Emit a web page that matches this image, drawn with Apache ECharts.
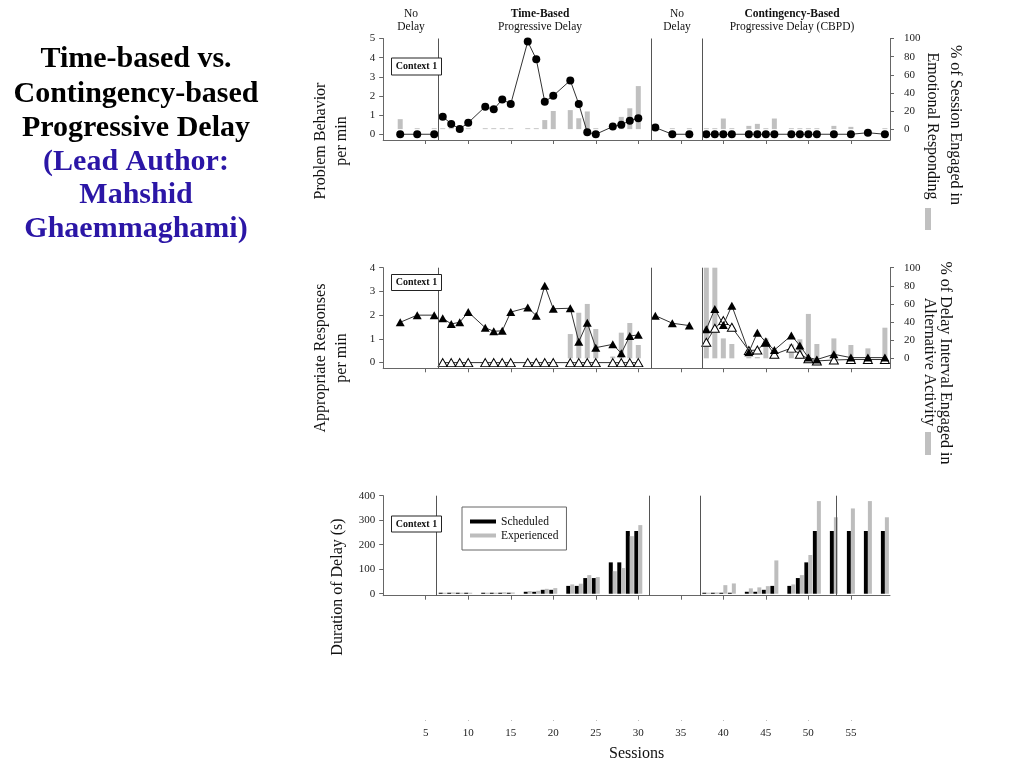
<!DOCTYPE html>
<html>
<head>
<meta charset="utf-8">
<script src="https://cdn.jsdelivr.net/npm/echarts@6/dist/echarts.min.js"></script>
<style>
  html, body { margin: 0; padding: 0; background: #fff; }
  #chart { width: 1024px; height: 768px; }
</style>
</head>
<body>
<div id="chart"></div>
<script>
// ---------------- data ----------------
const phaseBounds = [6.5, 31.5, 37.5];
const bottomExtraLine = [53.5];
const sessionTicks = [5, 10, 15, 20, 25, 30, 35, 40, 45, 50, 55];
const pbTicks = [0, 1, 2, 3, 4, 5];
const arTicks = [0, 1, 2, 3, 4];
const pctTicks = [0, 20, 40, 60, 80, 100];
const delayTicks = [0, 100, 200, 300, 400];

const sessions = [2,4,6, 7,8,9,10,12,13,14,15,17,18,19,20,22,23,24,25,27,28,29,30, 32,34,36, 38,39,40,41,43,44,45,46,48,49,50,51,53,55,57,59];

const problemBehavior = [0,0,0,
  0.92,0.54,0.28,0.60, 1.44,1.30,1.82,1.58, 4.84,3.92,1.70,2.01, 2.81,1.58,0.10,0.00, 0.40,0.50,0.71,0.83,
  0.35,0,0,
  0,0,0,0, 0,0,0,0, 0,0,0,0, 0,0,0.08,0];

const emotionalPct = [11,1,1,
  1,1,1,1, 1,1,1,1, 1,1,10,20, 21,12,19.5,1, 1,13.5,23,47.5,
  0,1,1,
  1,1,11.7,1, 3.6,5.8,1,11.7, 1,1,1,1, 3.6,2.5,0,1];

const appropriateFilled = [1.70,2.00,2.00,
  1.87,1.63,1.70,2.13, 1.47,1.32,1.34,2.13, 2.32,1.98,3.24,2.27, 2.29,0.88,1.68,0.63, 0.77,0.39,1.12,1.17,
  1.98,1.66,1.56,
  1.41,2.26,1.59,2.40, 0.44,1.26,0.86,0.53, 1.14,0.72,0.21,0.13, 0.35,0.21,0.21,0.21];

const openSessions = [7,8,9,10,12,13,14,15,17,18,19,20,22,23,24,25,27,28,29,30, 38,39,40,41,43,44,45,46,48,49,50,51,53,55,57,59];
const appropriateOpen = [0,0,0,0, 0,0,0,0, 0,0,0,0, 0,0,0,0, 0,0,0,0,
  0.86,1.45,1.77,1.49, 0.51,0.53,0.86,0.35, 0.61,0.35,0.16,0.07, 0.11,0.13,0.13,0.13];

const altActivityPct = [0,0,0,
  0,0,0,0, 0,0,0,0, 0,0,0,0, 26.8,50.3,60,32.3, 2,28.3,39,14.7,
  0,0,0,
  100,100,22,15.8, 1.5,1.5,22,0, 15.4,21,49,15.8, 22,14.7,11,33.8];

const delaySessions = [7,8,9,10,12,13,14,15,17,18,19,20,22,23,24,25,27,28,29,30, 38,39,40,41,43,44,45,46,48,49,50,51,53,55,57,59];
const scheduledDelay = [0.5,0.5,1,1, 2,2,4,4, 8,8,16,16, 32,32,64,64, 128,128,256,256,
  1,1,2,2, 8,8,16,32, 32,64,128,256, 256,256,256,256];
const experiencedDelay = [3,5,3,3, 3,4,6,5, 11,12,20,23, 38,41,76,68, 92,105,235,280,
  3,5,35,42, 22,26,31,136, 38,76,158,378, 312,348,378,312];

// ---------------- helpers ----------------
const SERIF = "'Liberation Serif', 'Times New Roman', 'DejaVu Serif', serif";
const AX = '#666';
const GRAY = '#c0c0c0';

function zip(xs, ys) { return xs.map((x, i) => [x, ys[i]]); }
function segments(xs, ys) {
  const segs = [[], [], [], []];
  xs.forEach((x, i) => {
    const k = phaseBounds.filter(b => x > b).length;
    segs[k].push([x, ys[i]]);
  });
  return segs.filter(s => s.length);
}
function phaseMarkLine(vals) {
  return {
    silent: true, symbol: 'none', animation: false,
    label: { show: false },
    lineStyle: { color: '#555', width: 1, type: 'solid' },
    data: vals.map(v => ({ xAxis: v }))
  };
}

const gridLeft = 383.2, gridWidth = 506.8;
const grids = [
  { left: gridLeft, top: 38.5, width: gridWidth, height: 101.5 },
  { left: gridLeft, top: 267.7, width: gridWidth, height: 100.6 },
  { left: gridLeft, top: 495.7, width: gridWidth, height: 100 },
  { left: gridLeft, top: 700, width: gridWidth, height: 20 }
];

function xAx(i, extra) {
  return Object.assign({
    type: 'value', gridIndex: i, min: 0, max: 59.6, interval: 5,
    axisLine: { show: true, onZero: false, lineStyle: { color: AX, width: 1 } },
    axisTick: { show: true, length: 4, customValues: sessionTicks, lineStyle: { color: AX } },
    axisLabel: { show: false },
    splitLine: { show: false }
  }, extra || {});
}
function yAx(i, pos, min, max, ticks, extra) {
  return Object.assign({
    type: 'value', gridIndex: i, position: pos, min: min, max: max,
    axisLine: { show: true, onZero: false, lineStyle: { color: AX, width: 1 } },
    axisTick: { show: true, length: 4, customValues: ticks, lineStyle: { color: AX } },
    axisLabel: { show: true, customValues: ticks, color: '#222', fontFamily: SERIF, fontSize: 11,
      margin: pos === 'right' ? 14 : 8 },
    splitLine: { show: false }
  }, extra || {});
}

const series = [];

// top panel
series.push({
  type: 'bar', name: 'Emotional Responding', xAxisIndex: 0, yAxisIndex: 1,
  data: zip(sessions, emotionalPct), barWidth: 5, itemStyle: { color: GRAY }, z: 1,
  markLine: phaseMarkLine(phaseBounds)
});
segments(sessions, problemBehavior).forEach(seg => series.push({
  type: 'line', xAxisIndex: 0, yAxisIndex: 0, data: seg,
  symbol: 'circle', symbolSize: 8, z: 3,
  lineStyle: { color: '#333', width: 1 }, itemStyle: { color: '#000' }
}));

// middle panel
series.push({
  type: 'bar', name: 'Alternative Activity', xAxisIndex: 1, yAxisIndex: 3,
  data: zip(sessions, altActivityPct), barWidth: 5, itemStyle: { color: GRAY }, z: 1,
  markLine: phaseMarkLine(phaseBounds)
});
segments(openSessions, appropriateOpen).forEach(seg => series.push({
  type: 'line', xAxisIndex: 1, yAxisIndex: 2, data: seg,
  symbol: 'triangle', symbolSize: [9, 8], z: 3,
  lineStyle: { color: '#333', width: 1 },
  itemStyle: { color: '#fff', borderColor: '#000', borderWidth: 1 }
}));
segments(sessions, appropriateFilled).forEach(seg => series.push({
  type: 'line', xAxisIndex: 1, yAxisIndex: 2, data: seg,
  symbol: 'triangle', symbolSize: [9, 8], z: 4,
  lineStyle: { color: '#333', width: 1 }, itemStyle: { color: '#000' }
}));

// bottom panel
series.push({
  type: 'bar', name: 'Scheduled', xAxisIndex: 2, yAxisIndex: 4,
  data: zip(delaySessions, scheduledDelay), barWidth: 4, barGap: '0%', barMinHeight: 1,
  itemStyle: { color: '#000' },
  markLine: phaseMarkLine(phaseBounds.concat(bottomExtraLine))
});
series.push({
  type: 'bar', name: 'Experienced', xAxisIndex: 2, yAxisIndex: 4,
  data: zip(delaySessions, experiencedDelay), barWidth: 4, barGap: '0%', barMinHeight: 1,
  itemStyle: { color: '#bdbdbd' }
});

// ---------------- texts ----------------
function txt(x, y, text, font, opts) {
  return Object.assign({
    type: 'text', x: x, y: y, silent: true,
    style: Object.assign({ text: text, font: font, fill: '#111', textAlign: 'center', textVerticalAlign: 'middle' },
      (opts && opts.style) || {})
  }, (opts && opts.el) || {});
}
const graphics = [];
// title
const titleFont = "bold 30px " + SERIF;
[['Time-based vs.', 59, '#000'], ['Contingency-based', 94, '#000'], ['Progressive Delay', 128, '#000'],
 ['(Lead Author:', 162, '#2B16A6'], ['Mahshid', 195, '#2B16A6'], ['Ghaemmaghami)', 229, '#2B16A6']]
 .forEach(t => graphics.push(txt(136, t[1], t[0], titleFont, { style: { fill: t[2] } })));

// phase headers
const hf = "11.5px " + SERIF, hb = "bold 11.5px " + SERIF;
graphics.push(txt(411, 14, 'No', hf), txt(411, 27, 'Delay', hf));
graphics.push(txt(540, 14, 'Time-Based', hb), txt(540, 27, 'Progressive Delay', hf));
graphics.push(txt(677, 14, 'No', hf), txt(677, 27, 'Delay', hf));
graphics.push(txt(792, 14, 'Contingency-Based', hb), txt(792, 27, 'Progressive Delay (CBPD)', hf));

// left axis names
const nf = "16px " + SERIF;
const up = { el: { rotation: Math.PI / 2 } };
const down = { el: { rotation: -Math.PI / 2 } };
graphics.push(txt(321, 141, 'Problem Behavior', nf, up), txt(342, 141, 'per min', nf, up));
graphics.push(txt(321, 358, 'Appropriate Responses', nf, up), txt(342, 358, 'per min', nf, up));
graphics.push(txt(338, 587, 'Duration of Delay (s)', nf, up));

// right axis names + swatches
graphics.push(txt(955, 125, '% of Session Engaged in', nf, down), txt(932, 126, 'Emotional Responding', nf, down));
graphics.push({ type: 'rect', silent: true, shape: { x: 925, y: 208, width: 6, height: 22 }, style: { fill: GRAY } });
graphics.push(txt(945, 363, '% of Delay Interval Engaged in', nf, down), txt(929, 362, 'Alternative Activity', nf, down));
graphics.push({ type: 'rect', silent: true, shape: { x: 925, y: 432, width: 6, height: 23 }, style: { fill: GRAY } });

// context boxes
[[58, 17], [274.5, 16], [516, 16]].forEach(b => {
  graphics.push({ type: 'rect', silent: true, shape: { x: 391.5, y: b[0], width: 50, height: b[1] },
    style: { fill: '#fff', stroke: '#222', lineWidth: 1 }, z: 10 });
  graphics.push(Object.assign(txt(416.5, b[0] + b[1] / 2, 'Context 1', "bold 10px " + SERIF), { z: 11 }));
});

// ---------------- option ----------------
const option = {
  animation: false,
  backgroundColor: '#fff',
  grid: grids,
  xAxis: [
    xAx(0), xAx(1), xAx(2),
    xAx(3, {
      axisLine: { show: false },
      axisTick: { show: true, length: 1, customValues: sessionTicks, lineStyle: { color: '#bbb' } },
      axisLabel: { show: true, customValues: sessionTicks, color: '#222', fontFamily: SERIF, fontSize: 11, margin: 8 },
      name: 'Sessions', nameLocation: 'middle', nameGap: 26,
      nameTextStyle: { fontFamily: SERIF, fontSize: 16, color: '#111' }
    })
  ],
  yAxis: [
    yAx(0, 'left', -0.3, 5, pbTicks),
    yAx(0, 'right', -12, 100, pctTicks),
    yAx(1, 'left', -0.24, 4, arTicks),
    yAx(1, 'right', -11, 100, pctTicks),
    yAx(2, 'left', -8, 400, delayTicks),
    { type: 'value', gridIndex: 3, show: false, min: 0, max: 1 }
  ],
  legend: {
    data: ['Scheduled', 'Experienced'],
    orient: 'vertical', left: 462, top: 507,
    padding: [8.5, 8, 8.5, 8], itemGap: 2, itemWidth: 26, itemHeight: 4, icon: 'rect',
    borderColor: '#666', borderWidth: 1,
    textStyle: { fontFamily: SERIF, fontSize: 11.5, color: '#111' }
  },
  graphic: graphics,
  series: series
};

const chart = echarts.init(document.getElementById('chart'), null, { renderer: 'canvas' });
chart.setOption(option);
</script>
</body>
</html>
